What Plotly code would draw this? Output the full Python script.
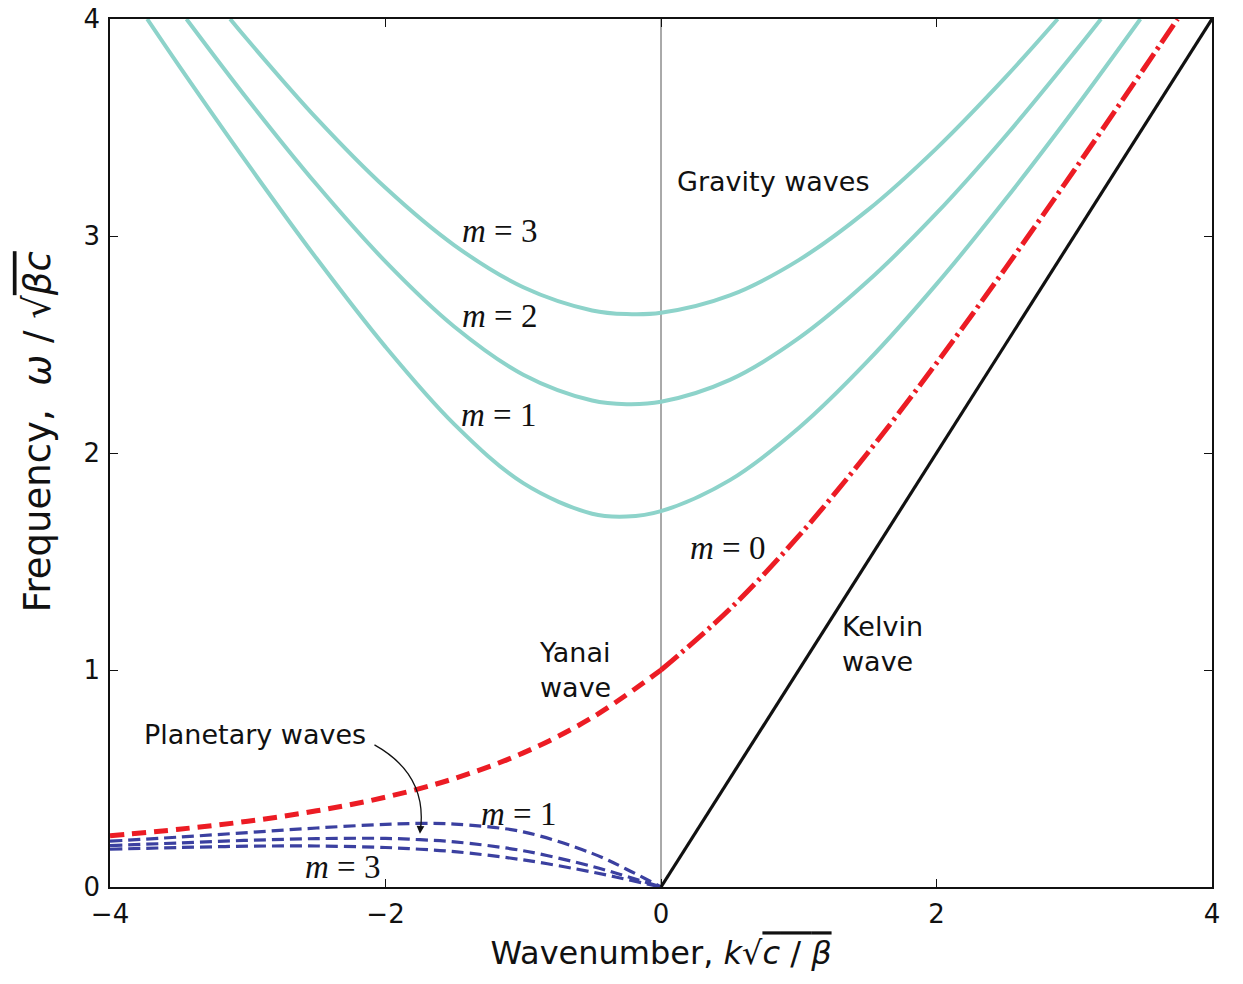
import plotly.graph_objects as go

# Gravity waves
g1_k = [-3.73, -3.5, -3.0, -2.5, -2.0, -1.5, -1.0, -0.5, -0.25, 0.0, 0.5, 1.0, 1.5, 2.0, 2.5, 3.0, 3.48]
g1_w = [4.0, 3.785, 3.332, 2.896, 2.489, 2.132, 1.861, 1.720, 1.707, 1.732, 1.875, 2.115, 2.423, 2.778, 3.168, 3.583, 4.0]
g2_k = [-3.445, -3.0, -2.5, -2.0, -1.5, -1.0, -0.5, -0.25, 0.0, 0.5, 1.0, 1.5, 2.0, 2.5, 3.0, 3.194]
g2_w = [4.0, 3.629, 3.237, 2.882, 2.582, 2.361, 2.242, 2.225, 2.236, 2.337, 2.529, 2.791, 3.105, 3.460, 3.845, 4.0]
g3_k = [-3.128, -3.0, -2.5, -2.0, -1.5, -1.0, -0.5, -0.25, 0.0, 0.5, 1.0, 1.5, 2.0, 2.5, 2.88]
g3_w = [4.0, 3.903, 3.542, 3.222, 2.957, 2.764, 2.657, 2.640, 2.646, 2.726, 2.889, 3.119, 3.404, 3.731, 4.0]

# Yanai wave
yw_k = [-4.0, -3.5, -3.0, -2.5, -2.0, -1.5, -1.0, -0.5, 0.0]
yw_w = [0.236, 0.266, 0.303, 0.351, 0.414, 0.5, 0.618, 0.781, 1.0]
ye_k = [0.0, 0.5, 1.0, 1.5, 2.0, 2.5, 3.0, 3.5, 3.75]
ye_w = [1.0, 1.281, 1.618, 2.0, 2.414, 2.851, 3.303, 3.766, 4.0]

# Planetary waves
p_k = [-4.0, -3.5, -3.0, -2.5, -2.0, -1.75, -1.5, -1.0, -0.5, -0.25, 0.0]
p1_w = [0.211, 0.230, 0.251, 0.272, 0.289, 0.293, 0.290, 0.254, 0.155, 0.082, 0.0]
p2_w = [0.191, 0.203, 0.215, 0.223, 0.224, 0.218, 0.208, 0.167, 0.095, 0.049, 0.0]
p3_w = [0.174, 0.182, 0.188, 0.189, 0.182, 0.174, 0.163, 0.125, 0.069, 0.035, 0.0]

# Kelvin wave
kv_k = [0.0, 4.0]
kv_w = [0.0, 4.0]

x_ticks = [-4, -2, 0, 2, 4]
x_labels = ["\u22124", "\u22122", "0", "2", "4"]
y_ticks = [0, 1, 2, 3, 4]

TEAL = "#8dd3ca"
RED = "#ec1c24"
BLUE = "#3b40a0"

fig = go.Figure()
for k, w in [(g1_k, g1_w), (g2_k, g2_w), (g3_k, g3_w)]:
    fig.add_trace(go.Scatter(x=k, y=w, mode="lines", line=dict(color=TEAL, width=4, shape="spline"),
                             hoverinfo="skip"))
for w in [p1_w, p2_w, p3_w]:
    fig.add_trace(go.Scatter(x=p_k, y=w, mode="lines",
                             line=dict(color=BLUE, width=3.2, dash="12px,6px", shape="spline"), hoverinfo="skip"))
fig.add_trace(go.Scatter(x=yw_k, y=yw_w, mode="lines",
                         line=dict(color=RED, width=5, dash="14px,8px", shape="spline"), hoverinfo="skip"))
fig.add_trace(go.Scatter(x=ye_k, y=ye_w, mode="lines",
                         line=dict(color=RED, width=5, dash="22px,5px,3px,5px", shape="spline"), hoverinfo="skip"))
fig.add_trace(go.Scatter(x=kv_k, y=kv_w, mode="lines", line=dict(color="#111111", width=3.2), hoverinfo="skip"))

fig.add_shape(type="line", x0=0, x1=0, y0=0, y1=4, xref="x", yref="y",
              line=dict(color="#555555", width=1), layer="below")
# curved arrow
fig.add_shape(type="path", path="M -2.08,0.655 Q -1.70,0.52 -1.745,0.27", xref="x", yref="y",
              line=dict(color="#111111", width=1.3))
fig.add_annotation(x=-1.75, y=0.245, ax=-1.745, ay=0.29, axref="x", ayref="y", xref="x", yref="y",
                   showarrow=True, arrowhead=2, arrowsize=1.2, arrowwidth=1.3, arrowcolor="#111111", text="")

SANS = "DejaVu Sans"
SERIF = "Liberation Serif"

def mlab(x, y, txt):
    fig.add_annotation(x=x, y=y, xref="x", yref="y", showarrow=False,
                       text="<i>m</i> = " + txt, font=dict(family=SERIF, size=33, color="#111111"))

mlab(-1.169, 3.023, "3")
mlab(-1.169, 2.631, "2")
mlab(-1.183, 2.175, "1")
mlab(0.486, 1.562, "0")
mlab(-1.038, 0.336, "1")
mlab(-2.309, 0.092, "3")

def tlab(x, y, txt, xanchor="center", align="center"):
    fig.add_annotation(x=x, y=y, xref="x", yref="y", showarrow=False, text=txt, xanchor=xanchor, align=align,
                       font=dict(family=SANS, size=27, color="#111111"))

tlab(0.813, 3.249, "Gravity waves")
tlab(1.30, 1.12, "Kelvin<br>wave", xanchor="left", align="left")
tlab(-0.90, 1.00, "Yanai<br>wave", xanchor="left", align="left")
tlab(-2.947, 0.705, "Planetary waves")

# y-axis title as rotated annotation
fig.add_annotation(x=0, y=0.524, xref="paper", yref="paper", xshift=-73, showarrow=False, textangle=-90,
                   xanchor="center", yanchor="middle",
                   text="Frequency,  <i>ω</i> / √<span style='text-decoration:overline'><i>βc</i></span>",
                   font=dict(family=SANS, size=37, color="#111111"))

fig.update_layout(
    width=1243, height=984,
    margin=dict(l=110, r=31, t=19, b=97),
    plot_bgcolor="white", paper_bgcolor="white",
    showlegend=False,
    font=dict(family=SANS, size=26, color="#111111"),
)
fig.update_xaxes(range=[-4, 4], tickvals=x_ticks, ticktext=x_labels, automargin=False,
                 ticks="inside", ticklen=8, tickwidth=1, tickcolor="#111111", mirror="ticks",
                 showline=True, linecolor="#111111", linewidth=1.5, showgrid=False, zeroline=False,
                 tickfont=dict(family=SANS, size=26), ticklabelstandoff=3,
                 title=dict(text="Wavenumber, <i>k</i>√<span style='text-decoration:overline'><i>c</i> / <i>β</i></span>",
                            font=dict(family=SANS, size=32), standoff=14))
fig.update_yaxes(range=[0, 4], tickvals=y_ticks, automargin=False,
                 ticks="inside", ticklen=8, tickwidth=1, tickcolor="#111111", mirror="ticks",
                 showline=True, linecolor="#111111", linewidth=1.5, showgrid=False, zeroline=False,
                 tickfont=dict(family=SANS, size=26), ticklabelstandoff=3)

fig.write_html("out.html", config={"displayModeBar": False},
               post_script="document.body.style.margin='0';")
